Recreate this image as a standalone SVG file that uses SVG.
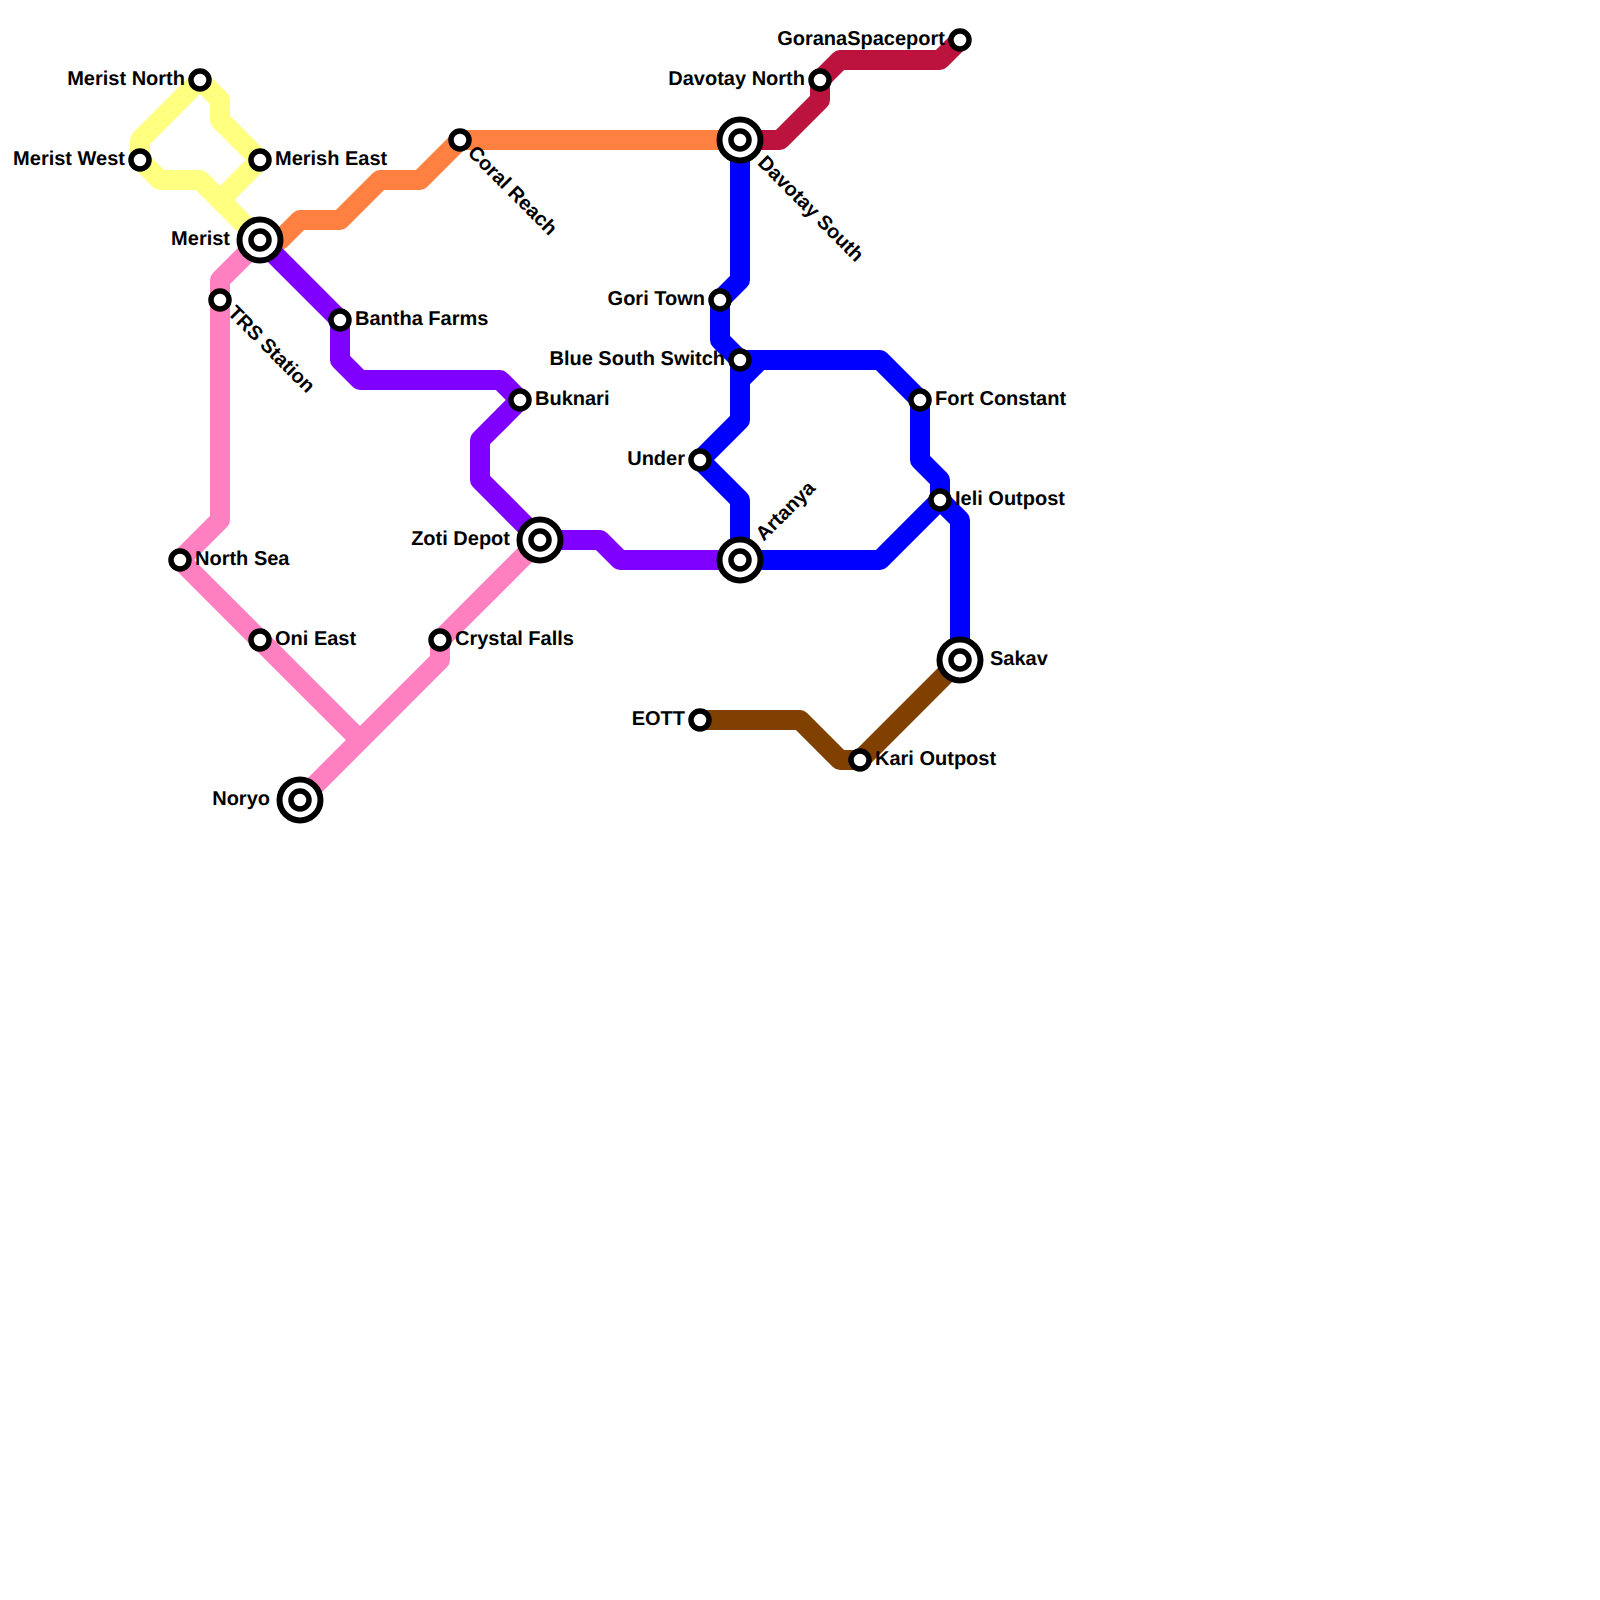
<svg xmlns="http://www.w3.org/2000/svg" width="1600" height="1600" viewBox="0 0 1600 1600">
<style>
.bg{fill:#fff}
.l{fill:none;stroke-width:20;stroke-linejoin:round;stroke-linecap:butt}
.s{fill:#fff;stroke:#000;stroke-width:5.5}
.r{fill:#fff;stroke:#000;stroke-width:6}
text{font-family:"Liberation Sans",Arial,sans-serif;font-size:20px;font-weight:700;fill:#000;text-rendering:geometricPrecision}
.e{text-anchor:end}
</style>
<rect class="bg" width="1600" height="1600"/>
<g id="connectors">
<path class="l" stroke="#ffff80" d="M260 240L200 180H160L140 160V140L200 80L220 100V120L260 160L220 200"/>
<path class="l" stroke="#ff8040" d="M260 240H280L300 220H340L380 180H420L460 140H740"/>
<path class="l" stroke="#8000ff" d="M260 240L340 320V360L360 380H500L520 400L480 440V480L540 540H600L620 560H740"/>
<path class="l" stroke="#ff80c0" d="M260 240L220 280V520L180 560L360 740"/>
<path class="l" stroke="#ff80c0" d="M540 540L440 640V660L300 800"/>
<path class="l" stroke="#0000ff" d="M740 140V280L720 300V340L740 360H880L920 400V460L940 480V500"/>
<path class="l" stroke="#0000ff" d="M740 380L760 360"/>
<path class="l" stroke="#0000ff" d="M740 360V420L700 460L740 500V560H880L940 500L960 520V660"/>
<path class="l" stroke="#bb133e" d="M740 140H780L820 100V80L840 60H940L960 40"/>
<path class="l" stroke="#804000" d="M700 720H800L840 760H860L960 660"/>
</g>
<g id="n-merist-north"><circle class="s" cx="200" cy="80" r="9"/><text class="e" x="185" y="85">Merist North</text></g>
<g id="n-merist-west"><circle class="s" cx="140" cy="160" r="9"/><text class="e" x="125" y="165">Merist West</text></g>
<g id="n-merish-east"><circle class="s" cx="260" cy="160" r="9"/><text x="275" y="165">Merish East</text></g>
<g id="n-merist"><circle class="r" cx="260" cy="240" r="20.5"/><circle class="s" cx="260" cy="240" r="9"/><text class="e" x="230" y="245">Merist</text></g>
<g id="n-coral-reach"><circle class="s" cx="460" cy="140" r="9"/><text transform="translate(469.5 151) rotate(45)" x="0" y="4">Coral Reach</text></g>
<g id="n-trs-station"><circle class="s" cx="220" cy="300" r="9"/><text transform="translate(229.5 311) rotate(45)" x="0" y="4">TRS Station</text></g>
<g id="n-bantha-farms"><circle class="s" cx="340" cy="320" r="9"/><text x="355" y="325">Bantha Farms</text></g>
<g id="n-buknari"><circle class="s" cx="520" cy="400" r="9"/><text x="535" y="405">Buknari</text></g>
<g id="n-zoti-depot"><circle class="r" cx="540" cy="540" r="20.5"/><circle class="s" cx="540" cy="540" r="9"/><text class="e" x="510" y="545">Zoti Depot</text></g>
<g id="n-artanya"><circle class="r" cx="740" cy="560" r="20.5"/><circle class="s" cx="740" cy="560" r="9"/><text transform="translate(761 539) rotate(-45)" x="0" y="4">Artanya</text></g>
<g id="n-davotay-south"><circle class="r" cx="740" cy="140" r="20.5"/><circle class="s" cx="740" cy="140" r="9"/><text transform="translate(759.5 161) rotate(45)" x="0" y="4">Davotay South</text></g>
<g id="n-davotay-north"><circle class="s" cx="820" cy="80" r="9"/><text class="e" x="805" y="85">Davotay North</text></g>
<g id="n-gorana"><circle class="s" cx="960" cy="40" r="9"/><text class="e" x="945" y="45">GoranaSpaceport</text></g>
<g id="n-gori-town"><circle class="s" cx="720" cy="300" r="9"/><text class="e" x="705" y="305">Gori Town</text></g>
<g id="n-blue-south"><circle class="s" cx="740" cy="360" r="9"/><text class="e" x="725" y="365">Blue South Switch</text></g>
<g id="n-under"><circle class="s" cx="700" cy="460" r="9"/><text class="e" x="685" y="465">Under</text></g>
<g id="n-fort-constant"><circle class="s" cx="920" cy="400" r="9"/><text x="935" y="405">Fort Constant</text></g>
<g id="n-jeli"><circle class="s" cx="940" cy="500" r="9"/><text x="955" y="505">Ieli Outpost</text></g>
<g id="n-sakav"><circle class="r" cx="960" cy="660" r="20.5"/><circle class="s" cx="960" cy="660" r="9"/><text x="990" y="665">Sakav</text></g>
<g id="n-eott"><circle class="s" cx="700" cy="720" r="9"/><text class="e" x="685" y="725">EOTT</text></g>
<g id="n-kari"><circle class="s" cx="860" cy="760" r="9"/><text x="875" y="765">Kari Outpost</text></g>
<g id="n-north-sea"><circle class="s" cx="180" cy="560" r="9"/><text x="195" y="565">North Sea</text></g>
<g id="n-oni-east"><circle class="s" cx="260" cy="640" r="9"/><text x="275" y="645">Oni East</text></g>
<g id="n-crystal-falls"><circle class="s" cx="440" cy="640" r="9"/><text x="455" y="645">Crystal Falls</text></g>
<g id="n-noryo"><circle class="r" cx="300" cy="800" r="20.5"/><circle class="s" cx="300" cy="800" r="9"/><text class="e" x="270" y="805">Noryo</text></g>
</svg>
